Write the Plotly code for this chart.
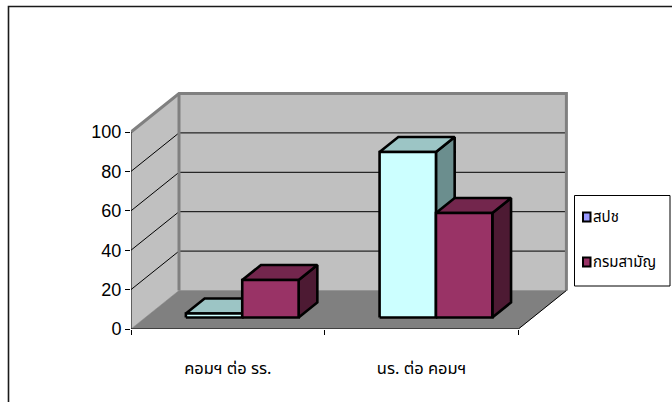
import plotly.graph_objects as go

# ---------------- data ----------------
categories = ["คอมฯ ต่อ รร.", "นร. ต่อ คอมฯ"]
series_names = ["สปช", "กรมสามัญ"]
spch_values = [2, 84]
krom_values = [19, 53]
y_ticks = [0, 20, 40, 60, 80, 100]

series_values = [spch_values, krom_values]

# ---------------- styles ----------------
FRONT = ["#CCFFFF", "#993366"]
TOP = ["#9CC5C5", "#73264D"]
SIDE = ["#6B8E8E", "#4D1A33"]
SWATCH = ["#9999FF", "#993366"]
WALL = "#C0C0C0"
FLOOR = "#808080"
EDGE = "#808080"
THAI_FONT = "Tahoma, 'Noto Sans Thai', 'Loma', sans-serif"

W, H = 672, 402
L, R, T, B = 131, 102, 90, 73
PW, PH = W - L - R, H - T - B
CAT_PX = 193.7          # pixels per category
VAL_PX = 1.97           # pixels per value unit
DX = 48 / CAT_PX        # depth offset (x units)
DY = 38.5 / VAL_PX      # depth offset (value units)
ZF, ZB = 0.30, 0.69     # bar depth range
BW = 0.291              # bar width (category units)
YMAX = max(y_ticks)

x0, x1 = -0.5, len(categories) - 0.5

fig = go.Figure()


def poly(xs, ys, fill=None, color="black", width=1.0, closed=True):
    if closed:
        xs = list(xs) + [xs[0]]
        ys = list(ys) + [ys[0]]
    fig.add_trace(go.Scatter(
        x=xs, y=ys, mode="lines",
        fill="toself" if fill else None, fillcolor=fill,
        line=dict(color=color, width=width),
        hoverinfo="skip", showlegend=False))


# walls & floor
poly([x0, x0, x0 + DX, x0 + DX], [0, YMAX, YMAX + DY, DY], fill=WALL, color=WALL, width=0.5)
poly([x0 + DX, x1 + DX, x1 + DX, x0 + DX], [DY, DY, YMAX + DY, YMAX + DY], fill=WALL, color=WALL, width=0.5)
poly([x0, x1, x1 + DX, x0 + DX], [0, 0, DY, DY], fill=FLOOR, color=FLOOR, width=0.5)

# gridlines
for v in y_ticks[1:-1]:
    poly([x0, x0 + DX, x1 + DX], [v, v + DY, v + DY], color="black", width=1, closed=False)

# wall edges
poly([x0, x0 + DX, x1 + DX, x1 + DX], [YMAX, YMAX + DY, YMAX + DY, DY], color=EDGE, width=3, closed=False)
poly([x0 + DX, x0 + DX], [DY, YMAX + DY], color=EDGE, width=3, closed=False)
poly([x1, x1 + DX], [0, DY], color="black", width=1, closed=False)

# axis lines
poly([x0, x0], [0, YMAX], color="black", width=1, closed=False)
poly([x0, x1], [0, 0], color="black", width=1, closed=False)

# bars (drawn left to right)
for ci in range(len(categories)):
    for si, vals in enumerate(series_values):
        v = vals[ci]
        a = ci - BW * len(series_values) / 2 + si * BW
        b = a + BW
        fx0, fx1 = a + ZF * DX, b + ZF * DX
        bx0, bx1 = a + ZB * DX, b + ZB * DX
        fy0, fy1 = ZF * DY, v + ZF * DY
        by0, by1 = ZB * DY, v + ZB * DY
        lw = 2.6
        poly([fx1, bx1, bx1, fx1], [fy0, by0, by1, fy1], fill=SIDE[si], width=lw)
        poly([fx0, fx1, bx1, bx0], [fy1, fy1, by1, by1], fill=TOP[si], width=lw)
        poly([fx0, fx1, fx1, fx0], [fy0, fy0, fy1, fy1], fill=FRONT[si], width=lw)


def px_x(p):
    return (p - L) / PW


def px_y(p):
    return (H - B - p) / PH


shapes = [
    # chart-area border
    dict(type="rect", xref="paper", yref="paper",
         x0=px_x(8.5), y0=px_y(420), x1=px_x(690), y1=px_y(6.5),
         line=dict(color="#1a1a1a", width=1.6), fillcolor="rgba(0,0,0,0)", layer="above"),
    # legend box
    dict(type="rect", xref="paper", yref="paper",
         x0=px_x(574.5), y0=px_y(286), x1=px_x(670), y1=px_y(195.5),
         line=dict(color="black", width=1), fillcolor="white"),
]
annotations = []
for i, name in enumerate(series_names):
    cy = 217 + i * 45
    shapes.append(dict(type="rect", xref="paper", yref="paper",
                       x0=px_x(583), x1=px_x(590.5), y0=px_y(cy + 4.5), y1=px_y(cy - 4.5),
                       line=dict(color="black", width=2), fillcolor=SWATCH[i]))
    annotations.append(dict(xref="paper", yref="paper", x=px_x(591), y=px_y(cy),
                            xanchor="left", yanchor="middle", showarrow=False,
                            text=name, font=dict(size=15, color="black", family=THAI_FONT)))

fig.update_layout(
    width=W, height=H,
    margin=dict(l=L, r=R, t=T, b=B, autoexpand=False),
    paper_bgcolor="white", plot_bgcolor="white",
    showlegend=False,
    shapes=shapes, annotations=annotations,
    xaxis=dict(range=[x0, x0 + PW / CAT_PX], showgrid=False, zeroline=False, showline=False,
               tickvals=list(range(len(categories))), ticktext=categories, ticks="",
               ticklabelstandoff=27,
               tickfont=dict(size=16.5, color="black", family=THAI_FONT),
               minor=dict(tickvals=[i - 0.5 for i in range(len(categories) + 1)],
                          ticks="outside", ticklen=5, tickcolor="black", tickwidth=1, showgrid=False),
               fixedrange=True),
    yaxis=dict(range=[0, PH / VAL_PX], showgrid=False, zeroline=False, showline=False,
               tickvals=y_ticks, ticks="outside", ticklen=5, tickcolor="black", tickwidth=1,
               tickfont=dict(size=18, color="black", family="Arial, 'Liberation Sans', sans-serif"),
               fixedrange=True),
)

fig.write_html("out.html")
